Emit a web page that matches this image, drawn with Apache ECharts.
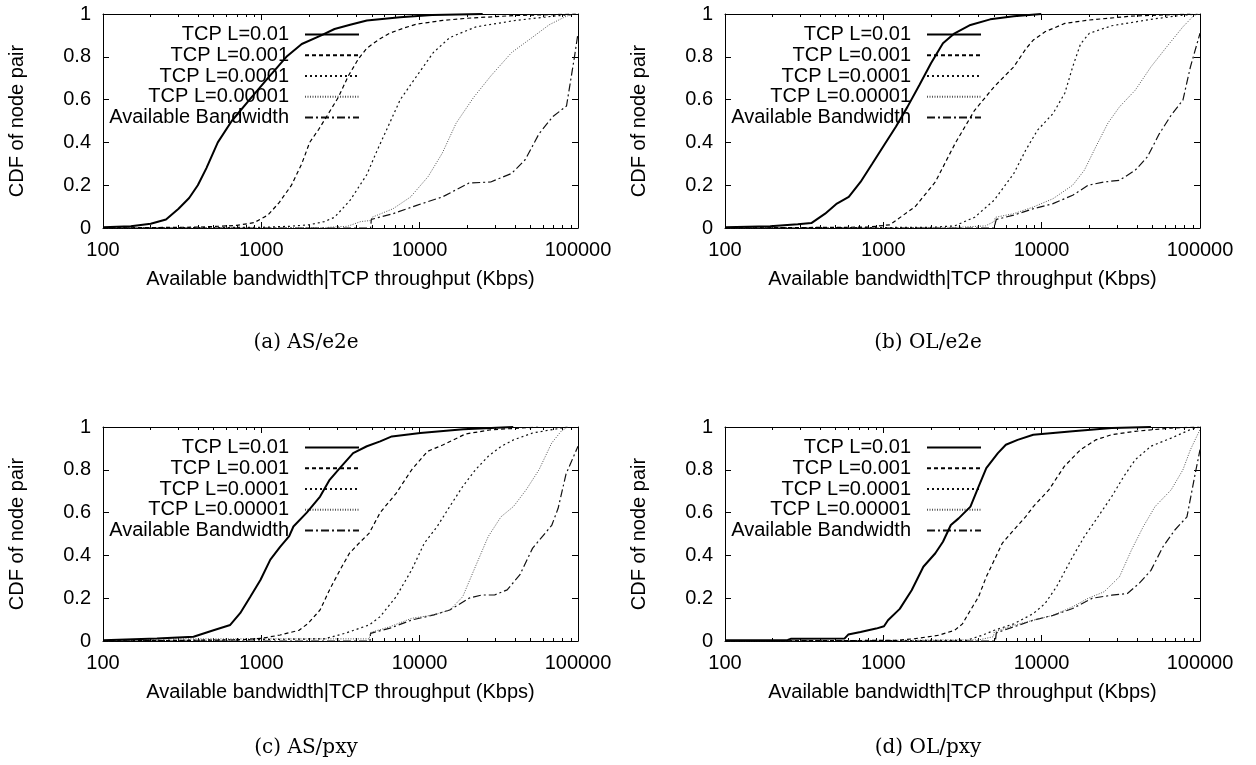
<!DOCTYPE html>
<html><head><meta charset="utf-8">
<script src="https://cdn.jsdelivr.net/npm/echarts@6/dist/echarts.min.js"></script>
<style>html,body{margin:0;padding:0;background:#fff}#c{width:1256px;height:765px}</style>
</head><body><div id="c"></div>
<script>
// ---------- text ----------
const seriesNames = ['TCP L=0.01', 'TCP L=0.001', 'TCP L=0.0001', 'TCP L=0.00001', 'Available Bandwidth'];
const panelCaptions = ['(a) AS/e2e', '(b) OL/e2e', '(c) AS/pxy', '(d) OL/pxy'];
const xAxisTitle = 'Available bandwidth|TCP throughput (Kbps)';
const yAxisTitle = 'CDF of node pair';
const xMajorTicks = [100, 1000, 10000, 100000];
const xMinorTicks = [200,300,400,500,600,700,800,900,2000,3000,4000,5000,6000,7000,8000,9000,20000,30000,40000,50000,60000,70000,80000,90000];
const yTicks = [0, 0.2, 0.4, 0.6, 0.8, 1];

// ---------- (a) AS/e2e ----------
const a_L01 = [[100,0.003],[150,0.008],[200,0.02],[250,0.04],[300,0.09],[350,0.14],[397,0.2],[450,0.28],[531,0.4],[650,0.5],[843,0.6],[1100,0.7],[1440,0.8],[1800,0.86],[2390,0.9],[2900,0.93],[3640,0.95],[4640,0.97],[7500,0.985],[12000,0.995],[25000,1]];
const a_L001 = [[100,0],[400,0.004],[700,0.012],[900,0.025],[1100,0.06],[1300,0.12],[1550,0.2],[1800,0.3],[2020,0.4],[2300,0.46],[2580,0.52],[3060,0.61],[3540,0.71],[4100,0.79],[4640,0.84],[5500,0.88],[6460,0.91],[8000,0.935],[9580,0.953],[14000,0.97],[19800,0.98],[40000,0.993],[100000,1]];
const a_L0001 = [[100,0],[1000,0.003],[1500,0.008],[2000,0.015],[2500,0.03],[2900,0.05],[3640,0.13],[4640,0.25],[5370,0.36],[6460,0.49],[7540,0.6],[9580,0.71],[12200,0.82],[15500,0.89],[22700,0.94],[40400,0.97],[70000,0.99],[100000,1]];
const a_L00001 = [[100,0],[2500,0.002],[3500,0.008],[4240,0.03],[4900,0.035],[5000,0.05],[6790,0.09],[8760,0.145],[11300,0.24],[13900,0.35],[17000,0.49],[21900,0.61],[28100,0.71],[38100,0.82],[51300,0.89],[65900,0.95],[84600,0.99],[95000,1]];
const a_AB = [[100,0],[4900,0],[4950,0.04],[6790,0.067],[9580,0.106],[13900,0.145],[20500,0.21],[28100,0.215],[38100,0.255],[46500,0.32],[56700,0.44],[69200,0.52],[84600,0.57],[95000,0.8],[100000,0.91]];

// ---------- (b) OL/e2e ----------
const b_L01 = [[100,0.003],[193,0.008],[288,0.017],[351,0.023],[429,0.067],[509,0.114],[605,0.145],[718,0.215],[851,0.3],[1010,0.387],[1200,0.473],[1420,0.566],[1690,0.668],[2000,0.77],[2380,0.863],[2820,0.91],[3550,0.949],[4730,0.975],[6660,0.99],[9940,1]];
const b_L001 = [[100,0],[800,0.004],[1100,0.015],[1590,0.1],[2130,0.215],[2840,0.395],[3770,0.55],[5010,0.66],[6660,0.753],[8000,0.84],[8850,0.878],[10500,0.917],[14000,0.956],[20000,0.972],[36900,0.99],[87000,1]];
const b_L0001 = [[100,0],[2000,0.003],[2820,0.01],[3770,0.05],[5010,0.13],[6660,0.254],[7920,0.363],[9410,0.457],[11800,0.535],[14000,0.63],[15700,0.753],[17600,0.86],[20000,0.91],[27700,0.945],[49000,0.975],[78000,0.995],[100000,1]];
const b_L00001 = [[100,0],[3000,0.003],[4420,0.01],[5000,0.03],[5100,0.05],[6660,0.067],[8850,0.098],[11800,0.137],[15700,0.2],[18600,0.27],[22000,0.38],[26200,0.49],[31000,0.566],[39000,0.644],[49000,0.753],[61700,0.847],[78000,0.94],[92000,0.995],[100000,1]];
const b_AB = [[100,0],[5000,0],[5170,0.04],[6660,0.06],[8850,0.09],[11800,0.114],[15700,0.153],[19700,0.2],[24800,0.215],[31000,0.223],[39000,0.27],[46500,0.332],[55300,0.44],[65700,0.527],[78000,0.598],[87000,0.753],[100000,0.91]];

// ---------- (c) AS/pxy ----------
const c_L01 = [[100,0.003],[219,0.012],[373,0.02],[499,0.05],[636,0.075],[735,0.13],[852,0.207],[987,0.285],[1140,0.38],[1314,0.44],[1500,0.49],[1595,0.535],[1936,0.6],[2350,0.675],[2700,0.753],[3130,0.808],[3800,0.878],[4640,0.91],[5630,0.933],[6670,0.956],[10100,0.972],[18900,0.99],[39000,1]];
const c_L001 = [[100,0],[700,0.005],[1000,0.012],[1314,0.028],[1730,0.05],[1980,0.083],[2350,0.145],[2700,0.24],[3130,0.33],[3600,0.41],[4140,0.457],[4800,0.504],[5630,0.6],[7100,0.69],[8900,0.8],[11200,0.886],[14100,0.917],[19400,0.967],[28100,0.987],[56000,1]];
const c_L0001 = [[100,0],[2500,0.01],[3380,0.036],[4800,0.075],[5630,0.114],[7100,0.207],[8900,0.332],[10700,0.457],[12900,0.535],[15500,0.629],[18700,0.722],[22500,0.8],[27100,0.863],[32600,0.909],[39200,0.94],[51700,0.972],[71500,0.99],[86000,1]];
const c_L00001 = [[100,0],[200,0.01],[4800,0.01],[4900,0.04],[6500,0.067],[8900,0.106],[12300,0.122],[15500,0.145],[18700,0.207],[22500,0.348],[27100,0.488],[32600,0.58],[39200,0.629],[47100,0.707],[56700,0.8],[68200,0.925],[78200,0.98],[86000,1]];
const c_AB = [[100,0],[4850,0],[4900,0.036],[6500,0.06],[8900,0.098],[12300,0.122],[15500,0.145],[20500,0.2],[24700,0.215],[29700,0.215],[35700,0.239],[43000,0.31],[51700,0.434],[59500,0.488],[68200,0.54],[74900,0.62],[84000,0.78],[100000,0.91]];

// ---------- (d) OL/pxy ----------
const d_L01 = [[100,0.003],[249,0.005],[260,0.01],[570,0.012],[600,0.03],[718,0.042],[900,0.058],[1010,0.069],[1070,0.097],[1270,0.15],[1510,0.237],[1790,0.347],[2130,0.41],[2380,0.464],[2670,0.542],[2990,0.573],[3550,0.628],[3990,0.72],[4470,0.808],[5290,0.878],[5940,0.917],[7050,0.94],[8850,0.964],[11800,0.972],[15700,0.98],[27700,0.995],[49000,1]];
const d_L001 = [[100,0],[1200,0.003],[1590,0.011],[2240,0.027],[2820,0.05],[3160,0.08],[3550,0.144],[3990,0.206],[4470,0.3],[5020,0.378],[5630,0.456],[6660,0.519],[7910,0.58],[8850,0.628],[11100,0.706],[13900,0.816],[17600,0.894],[22000,0.94],[27700,0.964],[39000,0.98],[65700,0.995],[98000,1]];
const d_L0001 = [[100,0],[3350,0.003],[4220,0.027],[5020,0.05],[6660,0.08],[8850,0.128],[10500,0.175],[12400,0.253],[15700,0.394],[18600,0.488],[22000,0.566],[27700,0.675],[33000,0.769],[39000,0.847],[49000,0.91],[65700,0.948],[87000,0.988],[100000,1]];
const d_L00001 = [[100,0],[4000,0.005],[4950,0.02],[5020,0.042],[6660,0.073],[8850,0.097],[11800,0.12],[15700,0.16],[19700,0.2],[24800,0.23],[31000,0.3],[36900,0.425],[43800,0.534],[52000,0.628],[65700,0.706],[78000,0.8],[87000,0.894],[100000,0.988]];
const d_AB = [[100,0],[5100,0],[5170,0.038],[6660,0.066],[8850,0.097],[11800,0.12],[15700,0.152],[20900,0.2],[27700,0.214],[34800,0.222],[41400,0.27],[49000,0.33],[58300,0.44],[69600,0.52],[82700,0.58],[92600,0.77],[100000,0.894]];

const panelData = [
  [a_L01, a_L001, a_L0001, a_L00001, a_AB],
  [b_L01, b_L001, b_L0001, b_L00001, b_AB],
  [c_L01, c_L001, c_L0001, c_L00001, c_AB],
  [d_L01, d_L001, d_L0001, d_L00001, d_AB]
];

// ---------- layout & style ----------
const FONT = 'Liberation Sans, Arial, Helvetica, sans-serif';
const panelBoxes = [
  {left: 103, top: 14}, {left: 725, top: 14},
  {left: 103, top: 427}, {left: 725, top: 427}
];
const PW = 475, PH = 214;
const captionPos = [[306, 343], [928, 343], [306, 748], [928, 748]];
const lineStyles = [
  {color: '#000', width: 2, type: 'solid'},
  {color: '#000', width: 1.2, type: [4, 3]},
  {color: '#111', width: 1.2, type: [2, 3]},
  {color: '#555', width: 1, type: [1, 1.5]},
  {color: '#111', width: 1.2, type: [8, 3, 2, 3]}
];

const grid = [], xAxis = [], yAxis = [], series = [], legend = [], graphicEls = [];
const black = '#000';
function xAx(gi, pos, major, labels, withName) {
  return {
    type: 'log', logBase: 10, min: 100, max: 100000, gridIndex: gi, position: pos,
    axisLine: {show: major, lineStyle: {color: black, width: 1}},
    axisTick: major
      ? {show: true, inside: true, length: 6, lineStyle: {color: black}}
      : {show: true, inside: true, length: 3, customValues: xMinorTicks, lineStyle: {color: black}},
    axisLabel: labels
      ? {show: true, color: black, fontFamily: FONT, fontSize: 20, margin: 12,
         customValues: xMajorTicks, formatter: v => String(Math.round(v))}
      : {show: false},
    splitLine: {show: false},
    name: withName ? xAxisTitle : '',
    nameLocation: 'middle', nameGap: 41,
    nameTextStyle: {color: black, fontFamily: FONT, fontSize: 20}
  };
}
function yAx(gi, pos, labels) {
  return {
    type: 'value', min: 0, max: 1, interval: 0.2, gridIndex: gi, position: pos,
    axisLine: {show: true, lineStyle: {color: black, width: 1}},
    axisTick: {show: true, inside: true, length: 6, lineStyle: {color: black}},
    axisLabel: labels ? {show: true, color: black, fontFamily: FONT, fontSize: 20, margin: 12} : {show: false},
    splitLine: {show: false},
    name: labels ? yAxisTitle : '',
    nameLocation: 'middle', nameGap: 76,
    nameTextStyle: {color: black, fontFamily: FONT, fontSize: 20}
  };
}

panelBoxes.forEach((b, p) => {
  grid.push({left: b.left, top: b.top, width: PW, height: PH, show: false, containLabel: false});
  const xi = xAxis.length;
  xAxis.push(xAx(p, 'bottom', true, true, true));
  xAxis.push(xAx(p, 'bottom', false, false, false));
  xAxis.push(xAx(p, 'top', true, false, false));
  xAxis.push(xAx(p, 'top', false, false, false));
  const yi = yAxis.length;
  yAxis.push(yAx(p, 'left', true));
  yAxis.push(yAx(p, 'right', false));
  panelData[p].forEach((data, s) => {
    series.push({
      type: 'line', name: seriesNames[s], xAxisIndex: xi, yAxisIndex: yi,
      data: data, symbol: 'none', showSymbol: false, smooth: false,
      lineStyle: lineStyles[s], itemStyle: {color: lineStyles[s].color},
      emphasis: {disabled: true}, silent: true, z: 10 - s
    });
  });
  legend.push({
    orient: 'vertical', align: 'right',
    right: 1256 - (b.left + 257), top: b.top + 10,
    itemWidth: 54, itemHeight: 2, itemGap: 0, padding: 0,
    itemStyle: {opacity: 0, borderWidth: 0},
    data: seriesNames, selectedMode: false,
    textStyle: {fontSize: 20, color: black, fontFamily: FONT, lineHeight: 20.8, padding: [0, 11, 0, 0]}
  });
  graphicEls.push({
    type: 'text', x: captionPos[p][0], y: captionPos[p][1],
    style: {text: panelCaptions[p], fill: black, font: '20px "DejaVu Serif", "Liberation Serif", serif',
            textAlign: 'center', textVerticalAlign: 'middle'}
  });
});

const chart = echarts.init(document.getElementById('c'), null, {renderer: 'canvas'});
chart.setOption({
  animation: false,
  backgroundColor: '#fff',
  textStyle: {fontFamily: FONT},
  grid, xAxis, yAxis, series, legend,
  graphic: graphicEls
});
</script>
</body></html>
